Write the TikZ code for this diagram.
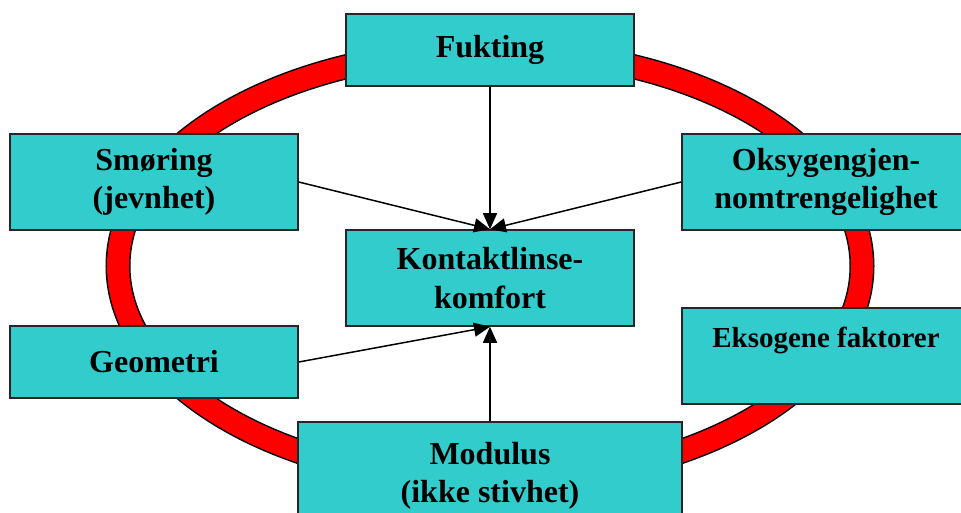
\documentclass[tikz,border=0pt]{standalone}
\usepackage{fontspec}
\setmainfont{Liberation Serif}
\usetikzlibrary{arrows.meta}
\definecolor{boxcyan}{RGB}{51,204,204}
\tikzset{
	box node/.style={rectangle, draw=black!85, line width=1.5pt, fill=boxcyan, inner sep=0pt, minimum width=288pt, minimum height=72pt, align=center, font=\fontsize{32}{38.4}\selectfont\bfseries},
	tall node/.style={box node, minimum height=96pt},
	link/.style={line width=1.5pt, -{Triangle[length=16pt, width=14pt]}},
}

\begin{document}
\begin{tikzpicture}[x=1pt, y=-1pt]
  \useasboundingbox (0,0) rectangle (961,513);
  \clip (0,0) rectangle (961,513);

  % ring
  \draw[line width=25pt] (490,266) ellipse [x radius=372pt, y radius=216pt];
  \draw[line width=22pt, red] (490,266) ellipse [x radius=372pt, y radius=216pt];

  \node(fukting)[box node] at (490,50) {Fukting};
  \node(smoring)[tall node] at (154,182) {Smøring\\(jevnhet)};
  \node(oksygen)[tall node] at (826,182) {Oksygengjen-\\nomtrengelighet};
  \node(komfort)[tall node] at (490,278) {Kontaktlinse-\\komfort};
  \node(geometri)[box node] at (154,362) {Geometri};
  \node(eksogen)[tall node, font=\fontsize{29}{34.8}\selectfont\bfseries, text depth=38pt] at (826,356) {Eksogene faktorer};
  \node(modulus)[tall node, minimum width=384pt, minimum height=108pt] at (490,476) {Modulus\\(ikke stivhet)};

  \draw[link] (fukting) -- (komfort.north);
  \draw[link] (smoring.east) -- (komfort.north);
  \draw[link] (oksygen.west) -- (komfort.north);
  \draw[link] (geometri.east) -- (komfort.south);
  \draw[link] (modulus) -- (komfort.south);

\end{tikzpicture}
\end{document}
